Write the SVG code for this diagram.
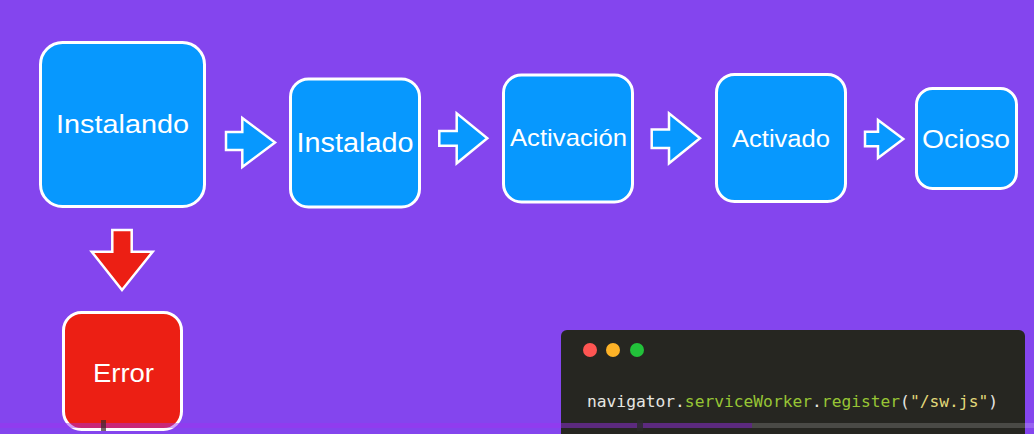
<svg xmlns="http://www.w3.org/2000/svg" width="1034" height="434" viewBox="0 0 1034 434">
<style>
.box{fill:#0798fe;stroke:#ffffff;stroke-width:3}
.err{fill:#ec1f14;stroke:#ffffff;stroke-width:3}
.lbl{font-family:"Liberation Sans",Arial,sans-serif;fill:#ffffff;text-anchor:middle}
.arr{fill:#0798fe;stroke:#ffffff;stroke-width:2.5;stroke-linejoin:miter}
.arrR{fill:#ec1f14;stroke:#ffffff;stroke-width:2.5}
.code{font-family:"DejaVu Sans Mono","Liberation Mono",monospace;font-size:16px}
</style>
<rect x="0" y="0" width="1034" height="434" fill="#8445ee"/>

<g id="connectors">
  <path class="arr" d="M226,132 H242.3 V118 L275,142.5 L242.3,167 V150 H226 Z"/>
  <path class="arr" d="M439.3,131 H456.7 V113.3 L487.3,138.3 L456.7,163.3 V145.7 H439.3 Z"/>
  <path class="arr" d="M651.7,129.5 H669 V113.3 L700,138.3 L669,163.3 V148 H651.7 Z"/>
  <path class="arr" d="M865,131.7 H878 V120 L903.3,139 L878,158 V146.3 H865 Z"/>
  <path class="arrR" d="M112.3,230 H131.7 V251.7 H152.7 L122,290 L91.7,251.7 H112.3 Z"/>
</g>

<g id="node-instalando">
  <rect class="box" x="40.5" y="42.5" width="164" height="164" rx="22"/>
  <text class="lbl" x="122.5" y="133" font-size="26" textLength="133" lengthAdjust="spacingAndGlyphs">Instalando</text>
</g>
<g id="node-instalado">
  <rect class="box" x="290.5" y="79" width="129" height="128" rx="18"/>
  <text class="lbl" x="355" y="152" font-size="27" textLength="117" lengthAdjust="spacingAndGlyphs">Instalado</text>
</g>
<g id="node-activacion">
  <rect class="box" x="503.5" y="75" width="129" height="127" rx="18"/>
  <text class="lbl" x="568.5" y="146" font-size="24" textLength="117" lengthAdjust="spacingAndGlyphs">Activación</text>
</g>
<g id="node-activado">
  <rect class="box" x="716.5" y="74.5" width="129" height="127" rx="18"/>
  <text class="lbl" x="781" y="147" font-size="23" textLength="98" lengthAdjust="spacingAndGlyphs">Activado</text>
</g>
<g id="node-ocioso">
  <rect class="box" x="916.5" y="88.5" width="100" height="100" rx="16"/>
  <text class="lbl" x="966" y="148" font-size="26" textLength="88" lengthAdjust="spacingAndGlyphs">Ocioso</text>
</g>
<g id="node-error">
  <rect class="err" x="63.5" y="312.5" width="118" height="117" rx="18"/>
  <text class="lbl" x="123.5" y="382" font-size="26" textLength="61" lengthAdjust="spacingAndGlyphs">Error</text>
</g>

<g id="code-window">
  <rect x="561" y="330" width="464" height="130" rx="6" fill="#262621"/>
  <circle cx="590" cy="350" r="7" fill="#fe5552"/>
  <circle cx="613" cy="350" r="7" fill="#fdb227"/>
  <circle cx="637" cy="350" r="7" fill="#22c13a"/>
  <text class="code" x="587" y="407" textLength="411" lengthAdjust="spacingAndGlyphs"><tspan fill="#e6e6e2">navigator.</tspan><tspan fill="#97c535">serviceWorker</tspan><tspan fill="#e6e6e2">.</tspan><tspan fill="#97c535">register</tspan><tspan fill="#e6e6e2">(</tspan><tspan fill="#e2d97a">"/sw.js"</tspan><tspan fill="#e6e6e2">)</tspan></text>
</g>

<g id="progress-bar">
  <rect x="0" y="423" width="752" height="5" fill="#a030f0" opacity="0.45"/>
  <rect x="752" y="423" width="282" height="5" fill="#ffffff" opacity="0.17"/>
  <rect x="101" y="420" width="5" height="11" fill="#3a2a2a" opacity="0.7"/>
  <rect x="637" y="420" width="6" height="11" fill="#2a2a2a" opacity="0.8"/>
</g>
</svg>
